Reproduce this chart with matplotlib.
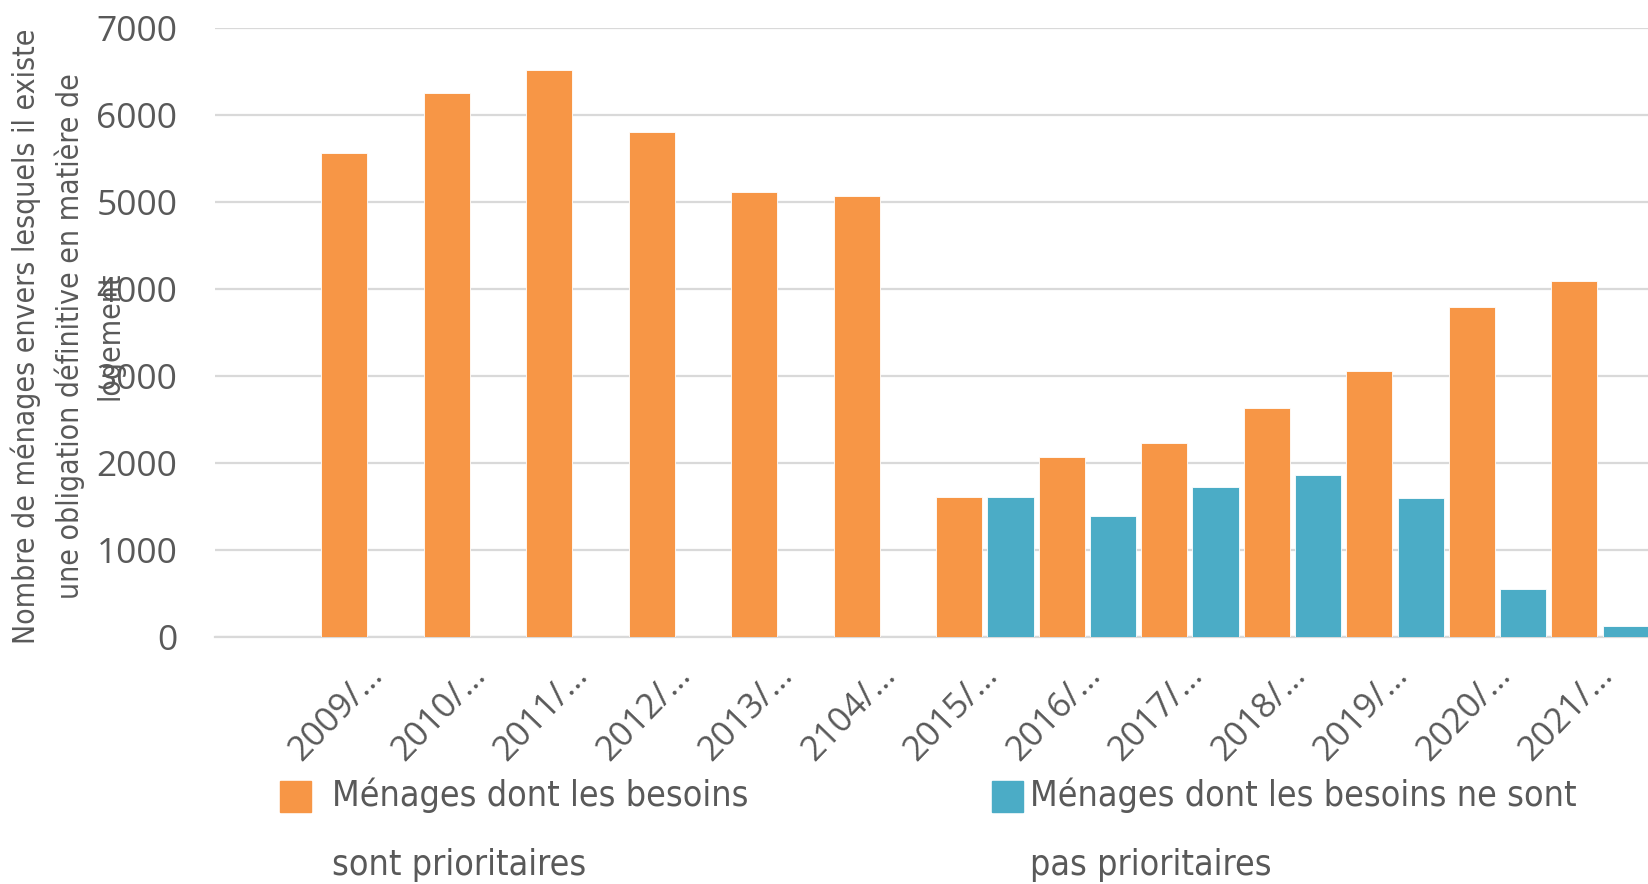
import matplotlib
matplotlib.use("Agg")
import matplotlib.pyplot as plt
import matplotlib.font_manager as fm
from matplotlib.font_manager import FontProperties
from matplotlib.patches import Rectangle
from matplotlib.transforms import offset_copy
import numpy as np

categories = ["2009/…", "2010/…", "2011/…", "2012/…", "2013/…", "2104/…", "2015/…",
              "2016/…", "2017/…", "2018/…", "2019/…", "2020/…", "2021/…"]
prioritaires = [5560, 6250, 6520, 5800, 5120, 5070, 1606, 2070, 2228, 2631, 3057, 3795, 4090]
non_prioritaires = [np.nan, np.nan, np.nan, np.nan, np.nan, np.nan, 1613, 1387, 1725, 1859, 1598, 546, 131]
series_labels = ["Ménages dont les besoins\nsont prioritaires",
                 "Ménages dont les besoins ne sont\npas prioritaires"]
ylabel_lines = ["Nombre de ménages envers lesquels il existe",
                "une obligation définitive en matière de",
                "logement"]
yticks = [0, 1000, 2000, 3000, 4000, 5000, 6000, 7000]

ORANGE = "#F79646"
BLUE = "#4BACC6"
GRID = "#D9D9D9"
TXT = "#595959"
MAIN = "Open Sans"

# pick a condensed font file if one exists, else a fairly narrow regular one
def narrow_props():
    best = None
    for f in fm.fontManager.ttflist:
        nm = f.name.lower()
        st = str(f.stretch).lower()
        if f.style != "normal" or f.weight not in (400, "normal", "regular", "book"):
            continue
        if "condensed" in st or "narrow" in nm or "condensed" in nm:
            if "extra" in st or "ultra" in st:
                continue
            best = f
            if "liberation" in nm or "dejavu" in nm:
                break
    if best is not None:
        return FontProperties(fname=best.fname)
    return FontProperties(family="Roboto")

NPROP = narrow_props()

W, H = 1648, 884
fig = plt.figure(figsize=(W / 100, H / 100), dpi=100)

def fx(px):
    return px / W

def fy(py):
    return 1 - py / H

ax = fig.add_axes([fx(215), fy(637), (W - 215) / W, (637 - 28) / H])
x = np.arange(len(categories))
bw = 0.45
ax.bar(x - 0.25, prioritaires, width=bw, color=ORANGE, edgecolor="white", linewidth=0.6, zorder=3)
ax.bar(x + 0.25, non_prioritaires, width=bw, color=BLUE, edgecolor="white", linewidth=0.6, zorder=3)

ax.set_xlim(-1.51, (W - 370) / 102.5)
ax.set_ylim(0, 7000)
ax.set_yticks(yticks)
ax.set_yticklabels([str(v) for v in yticks], fontsize=25.5, color=TXT, family=MAIN)
ax.yaxis.grid(True, color=GRID, linewidth=1.6, zorder=0)
ax.set_axisbelow(True)
for s in ["top", "right", "left"]:
    ax.spines[s].set_visible(False)
ax.spines["bottom"].set_color(GRID)
ax.spines["bottom"].set_linewidth(1.6)
ax.tick_params(axis="y", length=0, pad=27)
ax.tick_params(axis="x", length=0, pad=24)
ax.set_xticks(x)
ax.set_xticklabels(categories, rotation=46, ha="right", va="center",
                   rotation_mode="anchor", fontsize=25, color=TXT, family=MAIN)
for lab in ax.get_xticklabels():
    lab.set_transform(offset_copy(lab.get_transform(), fig=fig, x=8, y=0, units="dots"))

# y label lines
ylab_texts = []
for xp, line in zip([26, 70, 110], ylabel_lines):
    p = NPROP.copy()
    p.set_size(27)
    t = fig.text(fx(xp), fy(336), line, rotation=90, ha="center", va="center",
                 fontproperties=p, color=TXT)
    ylab_texts.append(t)

# legend
leg_texts = []
leg_specs = [(280, 332, ORANGE), (992, 1030, BLUE)]
for (sq_x, tx, col), lab in zip(leg_specs, series_labels):
    fig.add_artist(Rectangle((fx(sq_x), fy(812)), 31 / W, 31 / H, transform=fig.transFigure,
                             color=col, clip_on=False))
    for i, line in enumerate(lab.split("\n")):
        p = NPROP.copy()
        p.set_size(30)
        t = fig.text(fx(tx), fy(795 + 70 * i), line, ha="left", va="center",
                     fontproperties=p, color=TXT)
        leg_texts.append(t)

# fit narrow text sizes to the reference text lengths
fig.canvas.draw()
r = fig.canvas.get_renderer()
h0 = ylab_texts[0].get_window_extent(r).height
s_y = 614.0 / h0
for t in ylab_texts:
    t.set_fontsize(t.get_fontsize() * s_y)
w0 = leg_texts[0].get_window_extent(r).width
s_l = 417.0 / w0
for t in leg_texts:
    t.set_fontsize(t.get_fontsize() * s_l)

fig.savefig("out.png", dpi=100)
